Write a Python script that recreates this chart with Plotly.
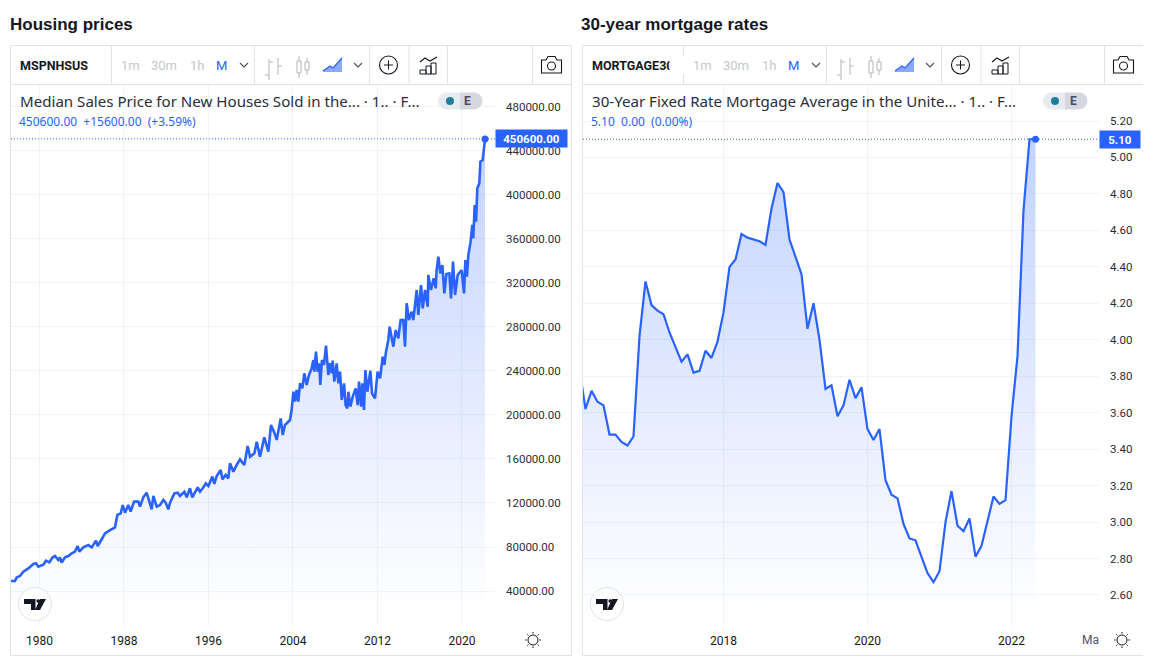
import plotly.graph_objects as go

W, H = 1160, 667
BLUE = "#2962FF"
GRID = "#f0f3fa"
BORDER = "#e0e3eb"
TXT = "#131722"
FONT = "Roboto"

# ---------- data ----------
price_years = [
 1977.30,1977.68,1977.84,1978.15,1978.47,1978.94,1979.42,1979.67,1979.89,1980.36,1980.62,1980.93,
 1981.25,1981.47,1981.78,1981.94,1982.10,1982.41,1982.73,1983.05,1983.36,1983.61,1983.77,1984.15,
 1984.62,1984.94,1985.35,1985.51,1985.89,1986.20,1986.68,1987.15,1987.37,1987.69,1987.88,1988.10,
 1988.41,1988.63,1988.95,
 1989.36,1989.52,1989.83,1990.15,1990.37,1990.62,1990.78,1991.10,1991.41,1991.73,1991.95,1992.20,
 1992.36,1992.77,1993.09,1993.31,1993.72,1993.94,1994.25,1994.47,1994.98,1995.20,1995.52,1995.74,
 1995.99,1996.37,1996.56,1996.78,1997.16,1997.32,1997.63,1997.88,1998.04,1998.36,1998.67,1998.99,
 1999.40,1999.71,1999.94,2000.35,2000.57,2000.88,2001.29,2001.67,2001.92,2002.24,2002.46,2002.84,
 2003.03,2003.25,2003.72,2003.88,
 2004.04,2004.20,2004.35,2004.51,2004.67,2004.89,2005.08,2005.30,2005.52,2005.77,2005.93,2006.03,
 2006.18,2006.34,2006.50,2006.59,2006.75,2006.94,2007.13,2007.35,2007.51,2007.67,2007.76,2007.92,
 2008.14,2008.30,2008.46,2008.62,2008.84,2008.99,2009.15,2009.25,2009.44,2009.66,2009.94,2010.13,
 2010.26,2010.45,2010.57,2010.73,2010.86,2011.05,2011.33,2011.49,2011.77,2012.02,2012.25,2012.50,
 2012.66,2012.81,2013.03,
 2013.16,2013.51,2013.73,2013.98,2014.20,2014.45,2014.61,2014.77,2014.99,2015.24,2015.40,2015.72,
 2015.87,2016.13,2016.29,2016.51,2016.76,2016.82,2017.07,2017.33,2017.52,2017.61,2017.77,2017.96,
 2018.15,2018.34,2018.53,2018.81,2018.97,2019.16,2019.35,2019.60,2019.98,2020.20,2020.33,2020.48,
 2020.61,2020.80,2020.99,2021.08,2021.21,2021.34,2021.46,2021.65,2021.75,2021.97,2022.19,
]
price_values = [
 49100,49100,52400,53700,57600,60600,64600,65200,62100,63900,67600,66100,
 70600,71800,68200,70600,65800,70600,71800,74300,75800,80900,75800,79700,
 81800,79700,85800,80900,87000,92400,95400,97900,109100,110600,118100,111200,
 118100,112100,121200,
 121200,116600,125100,129300,121200,114200,126300,116600,118100,122700,120300,114200,
 120300,128700,129300,126300,130200,125100,133300,125100,134200,130200,134200,137800,
 135400,143900,137200,144500,149900,141400,145400,142300,156000,148400,154500,159600,
 154500,171700,162000,165100,175600,162000,179600,166600,190800,183800,177200,196800,
 181700,190800,195300,204400,
 221000,212000,222600,212000,228600,224100,237700,227100,236200,242200,249800,239200,
 257400,239200,246800,227100,249800,245300,262800,236200,246800,237700,249200,230100,
 246800,228600,239200,213500,228600,208900,205900,221000,207400,216500,224100,208900,
 230100,207400,228600,204400,240700,221000,240100,219500,215000,239200,233200,252800,
 245300,257400,268000,
 280100,261900,277000,269500,286100,286100,261900,301300,286100,293700,286100,313400,
 290700,317900,296700,313400,298200,327000,313400,324000,314900,331500,343600,328500,
 336100,310300,327900,328500,305800,339100,308800,327000,331500,310300,340600,325500,
 345200,355700,372400,360300,390600,375400,405700,410200,429900,431400,450600,
]
price_ticks = [40000,80000,120000,160000,200000,240000,280000,320000,360000,400000,440000,480000]
price_year_ticks = [1980,1988,1996,2004,2012,2020]

rate_years = [2016 + i/12 for i in range(77)]
rate_values = [
 3.84,3.62,3.72,3.66,3.64,3.48,3.48,3.44,3.42,3.47,4.02,4.32,
 4.19,4.16,4.14,4.04,3.96,3.88,3.92,3.82,3.83,3.94,3.90,3.99,
 4.15,4.40,4.44,4.58,4.56,4.55,4.54,4.52,4.72,4.86,4.81,4.55,
 4.46,4.36,4.06,4.20,4.00,3.73,3.75,3.58,3.64,3.78,3.68,3.74,
 3.51,3.45,3.51,3.23,3.15,3.13,2.99,2.91,2.90,2.81,2.72,2.67,
 2.73,3.00,3.17,2.98,2.95,3.02,2.81,2.87,3.01,3.14,3.10,3.12,
 3.58,3.91,4.71,5.10,5.10,
]
rate_ticks = [2.6,2.8,3.0,3.2,3.4,3.6,3.8,4.0,4.2,4.4,4.6,4.8,5.0,5.2]
rate_year_ticks = [2018,2020,2022,2023.583]
rate_year_labels = ["2018","2020","2022",""]

# ---------- pixel helpers (page furniture only) ----------
fx = lambda p: p / W
fy = lambda p: 1 - p / H

def path(pts, closed=False):
    s = "M" + " L".join(f"{fx(x):.5f},{fy(y):.5f}" for x, y in pts)
    return s + (" Z" if closed else "")

shapes, notes = [], []

def line(pts, color=TXT, width=1.0, closed=False, fill=None):
    shapes.append(dict(type="path", xref="paper", yref="paper", path=path(pts, closed),
                       line=dict(color=color, width=width),
                       fillcolor=fill if fill else "rgba(0,0,0,0)", layer="above"))

def rect(x0, y0, x1, y1, color=TXT, width=1.0, fill=None):
    shapes.append(dict(type="rect", xref="paper", yref="paper", x0=fx(x0), x1=fx(x1), y0=fy(y0), y1=fy(y1),
                       line=dict(color=color, width=width), fillcolor=fill if fill else "rgba(0,0,0,0)", layer="above"))

def circle(cx, cy, r, color=TXT, width=1.0, fill=None):
    shapes.append(dict(type="circle", xref="paper", yref="paper", x0=fx(cx-r), x1=fx(cx+r), y0=fy(cy-r), y1=fy(cy+r),
                       line=dict(color=color, width=width), fillcolor=fill if fill else "rgba(0,0,0,0)", layer="above"))

def txt(x, y, s, size=12, color=TXT, bold=False, anchor="left", font=FONT, bg=None):
    notes.append(dict(xref="paper", yref="paper", x=fx(x), y=fy(y), text=f"<b>{s}</b>" if bold else s,
                      showarrow=False, xanchor=anchor, yanchor="middle", borderpad=0, borderwidth=0,
                      font=dict(family=font, size=size, color=color), bgcolor=bg))

def chrome(ox, symbol, legend, value_text, pill_x, right, sun_x, title, title_x):
    txt(title_x, 24, title, size=17, bold=True, color="#131722", font="Liberation Sans")
    # frame
    line([(ox+10.5, 45.5), (right, 45.5)], BORDER)
    line([(ox+10.5, 84.5), (right, 84.5)], BORDER)
    line([(ox+10.5, 45.5), (ox+10.5, 655.5)], BORDER)
    line([(ox+10.5, 655.5), (right, 655.5)], BORDER)
    for d in [111, 254, 369, 408.5, 447, 532]:
        line([(ox+d+.5, 46), (ox+d+.5, 84)], BORDER)
    # toolbar text
    txt(ox+20, 65, symbol, size=12.5, bold=True)
    for x, s in [(121, "1m"), (151, "30m"), (190, "1h")]:
        txt(ox+x, 65, s, size=13, color="#c4c7ce")
    txt(ox+216, 65, "M", size=13, color=BLUE)
    for cx in (244, 358):
        line([(ox+cx-4, 63), (ox+cx, 67), (ox+cx+4, 63)], "#50535e", 1.2)
    # bars icon
    g = "#b2b5be"
    line([(ox+269, 59), (ox+269, 80)], g); line([(ox+265, 75), (ox+269, 75)], g)
    line([(ox+278, 58), (ox+278, 75)], g); line([(ox+278, 66), (ox+282, 66)], g)
    line([(ox+269.5, 62), (ox+273, 62)], g)
    # candles icon
    rect(ox+297, 61, ox+301, 73, g); line([(ox+299, 56), (ox+299, 61)], g); line([(ox+299, 73), (ox+299, 78)], g)
    rect(ox+305, 62, ox+309, 70, g); line([(ox+307, 58), (ox+307, 62)], g); line([(ox+307, 70), (ox+307, 75)], g)
    # area icon
    a = [(ox+323, 71), (ox+330, 66), (ox+333, 68), (ox+342, 58)]
    line(a + [(ox+342, 72), (ox+323, 72)], "rgba(0,0,0,0)", 0, True, "rgba(41,98,255,.55)")
    line(a, BLUE, 1.2)
    # plus icon
    circle(ox+388.5, 65, 9, "#131722", 1.1)
    line([(ox+384, 65), (ox+393, 65)], "#131722"); line([(ox+388.5, 60.5), (ox+388.5, 69.5)], "#131722")
    # indicator icon
    rect(ox+420, 70, ox+426, 74, "#131722"); rect(ox+426, 66, ox+431, 74, "#131722"); rect(ox+431, 63, ox+436, 74, "#131722")
    line([(ox+420, 62), (ox+425, 58), (ox+430, 61), (ox+437, 57)], "#131722", 1.1)
    # camera icon
    line([(ox+541.5, 60), (ox+546, 60), (ox+548, 56.5), (ox+555, 56.5), (ox+557, 60), (ox+561.5, 60),
          (ox+561.5, 73), (ox+541.5, 73)], "#131722", 1.1, True)
    circle(ox+551.5, 66, 4, "#131722", 1.1)
    # legend
    txt(ox+20, 101, legend, size=15.1, color="#2a2e39", font="Noto Sans")
    txt(ox+19, 121, value_text, size=12, color=BLUE, font="Noto Sans")
    # pill
    circle(pill_x+8.5, 101, 8.5, "#e6ebf2", 0, "#e6ebf2")
    circle(pill_x+36, 101, 8.5, "#d6d8de", 0, "#d6d8de")
    rect(pill_x+8.5, 92.5, pill_x+22, 109.5, "#e6ebf2", 0, "#e6ebf2")
    rect(pill_x+22, 92.5, pill_x+36, 109.5, "#d6d8de", 0, "#d6d8de")
    circle(pill_x+12, 101, 4, "#1a7f99", 0, "#1a7f99")
    txt(pill_x+30, 101, "E", size=12, color="#4a4a68", anchor="center", bold=True)
    # logo
    c = ox + 35
    circle(c, 604, 16.5, BORDER, 1, "#ffffff")
    line([(c-11, 599), (c+0.5, 599), (c+0.5, 610), (c-4, 610), (c-4, 604), (c-11, 604)], "rgba(0,0,0,0)", 0, True, "#131722")
    line([(c+5, 610), (c+11, 599), (c+5, 599), (c+0, 610)], "rgba(0,0,0,0)", 0, True, "#131722")
    circle(c+3.2, 601, 1.8, "#131722", 0, "#131722")
    # sun
    circle(sun_x, 640, 5, "#131722", 1)
    for dx, dy in [(0, -8), (0, 8), (-8, 0), (8, 0), (-5.7, -5.7), (5.7, -5.7), (-5.7, 5.7), (5.7, 5.7)]:
        line([(sun_x+dx*0.8, 640+dy*0.8), (sun_x+dx, 640+dy)], "#131722", 1)

chrome(0, "MSPNHSUS", "Median Sales Price for New Houses Sold in the... · 1.. · F...",
       "450600.00  +15600.00  (+3.59%)", 438, 571.5, 533, "Housing prices", 10)
line([(571.5, 45.5), (571.5, 655.5)], BORDER)
chrome(572, "MORTGAGE30", "30-Year Fixed Rate Mortgage Average in the Unite... · 1.. · F...",
       "5.10  0.00  (0.00%)", 1043, 1143, 1122, "30-year mortgage rates", 581)
notes.append(dict(xref="paper", yref="paper", x=fx(669), y=fy(65), text="&#160;&#160;&#160;&#160;", showarrow=False,
                  xanchor="left", yanchor="middle", bgcolor="#ffffff", font=dict(size=14, family=FONT)))
txt(1099, 640, "Ma", size=12, color="#50535e", anchor="right")

# ---------- traces ----------
def series(x, y, xa, ya, start, stop, width):
    return [
        go.Scatter(x=x, y=y, xaxis=xa, yaxis=ya, mode="lines", fill="tozeroy",
                   line=dict(color=BLUE, width=width),
                   fillgradient=dict(type="vertical", start=start, stop=stop,
                                     colorscale=[[0, "rgba(41,98,255,0.28)"], [1, "rgba(41,98,255,0.0)"]]),
                   showlegend=False, hoverinfo="skip"),
        go.Scatter(x=x[-1:], y=y[-1:], xaxis=xa, yaxis=ya, mode="markers",
                   marker=dict(color=BLUE, size=7), showlegend=False, hoverinfo="skip", cliponaxis=False),
    ]

fig = go.Figure(series(price_years, price_values, "x", "y", 450600, 20000, 2.6)
                + series(rate_years, rate_values, "x2", "y2", 5.10, 2.50, 2.2))

# axis ranges from the picture's tick positions
def yr_left(p): return 1980 + (p - 39.5) / 10.56
def val_left(p): return 480000 - (p - 106.5) * 40000 / 44.05
def yr_right(p): return 2018 + (p - 723.5) / 72
def val_right(p): return 5.2 - (p - 121) * 0.2 / 36.46

common_x = dict(showgrid=True, gridcolor=GRID, gridwidth=1, zeroline=False, showline=False, ticks="",
                tickfont=dict(family=FONT, size=12, color=TXT), ticklabelstandoff=6, tickmode="array")
common_y = dict(showgrid=True, gridcolor=GRID, gridwidth=1, zeroline=False, showline=False, ticks="", side="right",
                tickfont=dict(family=FONT, size=11.5, color="#2a2e39"), tickmode="array", ticklabelstandoff=10)

dom_y = [fy(625.5), fy(85)]
layout = dict(
    width=W, height=H, margin=dict(l=0, r=0, t=0, b=0), plot_bgcolor="#ffffff", paper_bgcolor="#ffffff",
    xaxis=dict(common_x, domain=[fx(11), fx(495)], range=[yr_left(11), yr_left(495)], anchor="y",
               tickvals=price_year_ticks, ticktext=[str(v) for v in price_year_ticks]),
    yaxis=dict(common_y, domain=dom_y, range=[val_left(625.5), val_left(85)], anchor="x",
               tickvals=price_ticks, ticktext=[f"{v:.2f}" for v in price_ticks]),
    xaxis2=dict(common_x, domain=[fx(583), fx(1099)], range=[yr_right(583), yr_right(1099)], anchor="y2",
                tickvals=rate_year_ticks, ticktext=rate_year_labels),
    yaxis2=dict(common_y, domain=dom_y, range=[val_right(625.5), val_right(85)], anchor="x2",
                tickvals=rate_ticks, ticktext=[f"{v:.2f}" for v in rate_ticks]),
)

# last-value guide lines and price labels
for xa, ya, last, label, box_w in [("x", "y", price_values[-1], f"{price_values[-1]:.2f}", 71),
                                   ("x2", "y2", rate_values[-1], f"{rate_values[-1]:.2f}", 40)]:
    shapes.append(dict(type="line", xref=f"{xa} domain", yref=ya, x0=0, x1=1, y0=last, y1=last,
                       line=dict(color=BLUE, width=1, dash="1px,2px"), layer="above"))
    notes.append(dict(xref=f"{xa} domain", yref=ya, x=1, y=last, text=f"<b>{label}</b>", showarrow=False,
                      xanchor="left", yanchor="middle", align="center", bgcolor=BLUE, borderpad=2,
                      width=box_w - 4, height=13, font=dict(family=FONT, size=11.5, color="#ffffff")))

fig.update_layout(**layout, shapes=shapes, annotations=notes)
fig.write_html("out.html", config=dict(displayModeBar=False),
               post_script="document.body.style.margin='0';document.body.style.overflow='hidden';")
